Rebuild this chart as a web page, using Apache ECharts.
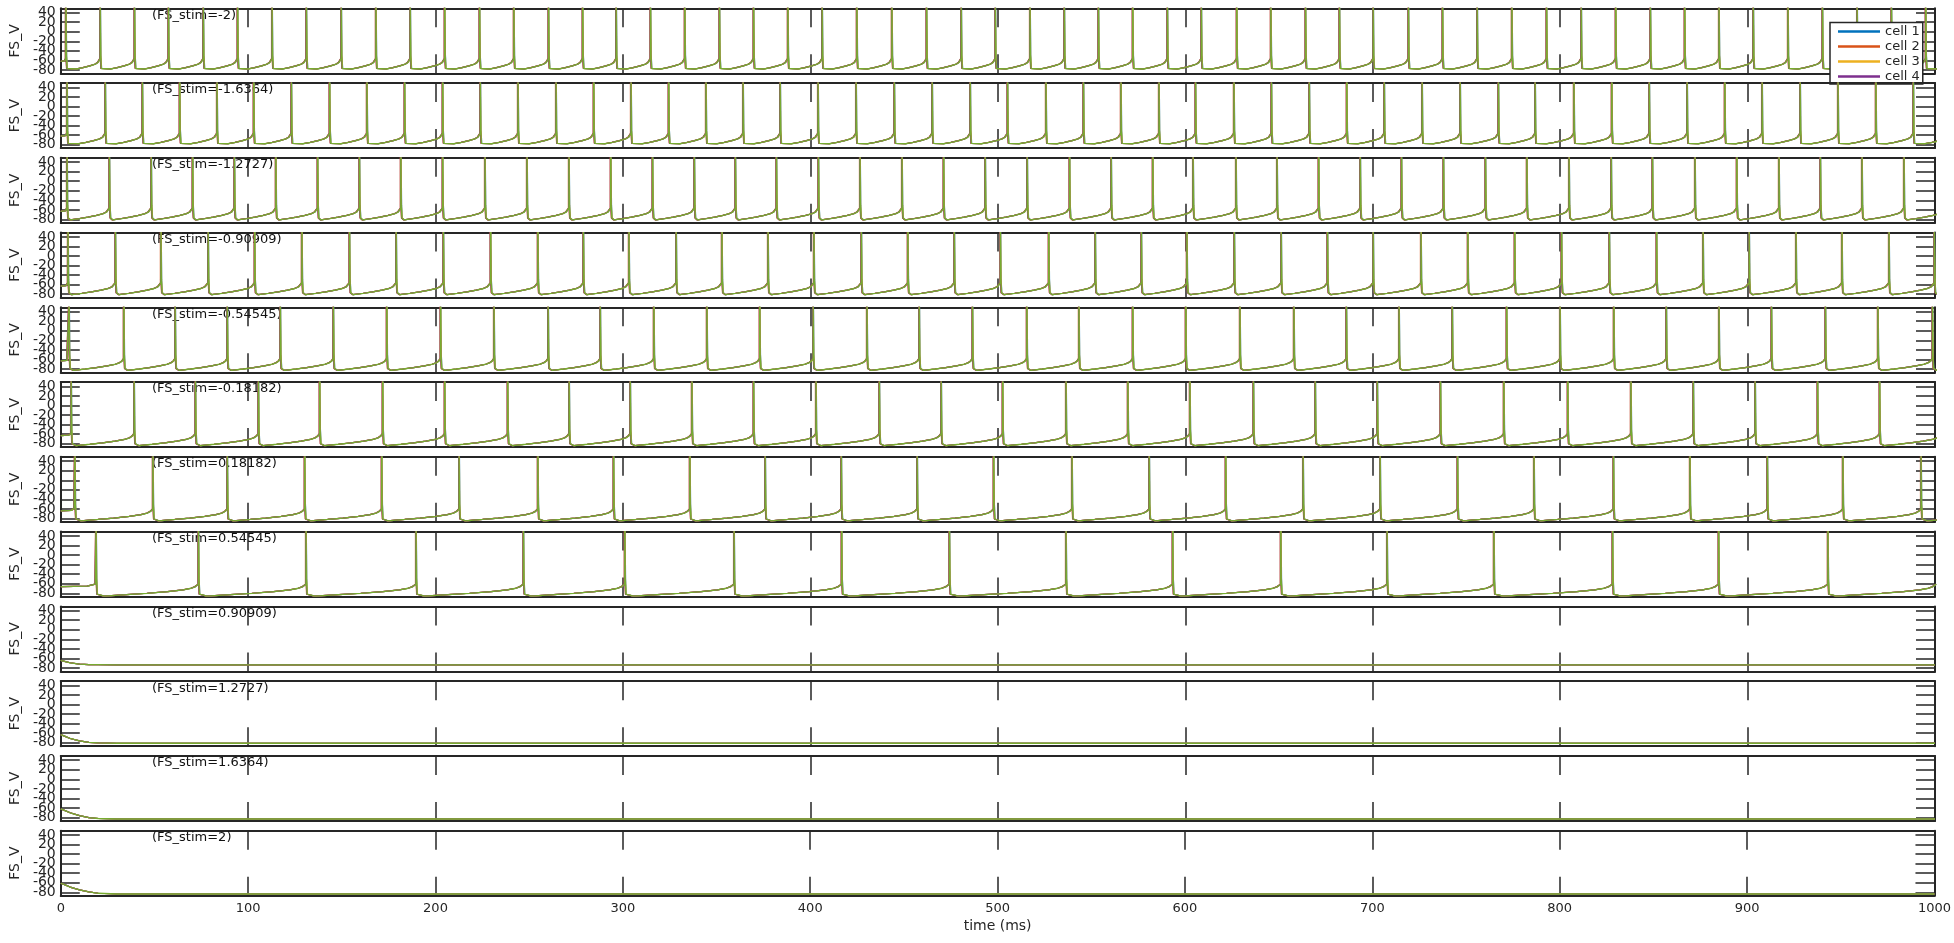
<!DOCTYPE html>
<html><head><meta charset="utf-8">
<script src="https://cdn.jsdelivr.net/npm/echarts@6/dist/echarts.min.js"></script>
<style>html,body{margin:0;padding:0;background:#fff}#c{width:1954px;height:943px}</style>
</head><body><div id="c"></div>
<script>
// ---------- data ----------
const stimLabels = ['-2','-1.6364','-1.2727','-0.90909','-0.54545','-0.18182','0.18182','0.54545','0.90909','1.2727','1.6364','2'];
const cellNames = ['cell 1','cell 2','cell 3','cell 4','cell 5'];
const cellColors = ['#0072BD','#D95319','#EDB120','#7E2F8E','#77AC30'];
const cellShift = [0.2,-0.25,0.15,-0.15,0];           // ms, small per-cell spike lag
const xTicks = [0,100,200,300,400,500,600,700,800,900,1000];
const yTicks = [-80,-60,-40,-20,0,20,40];
const yLabelsA = [-80,-40,0,40];
const yLabelsB = [-60,-20,20];

// spike times (ms)
const spikes1 = [2.7,21.0,39.3,57.4,76.0,94.3,112.7,131.0,149.6,168.1,186.4,204.8,223.4,241.7,260.2,278.4,296.3,314.6,332.9,351.4,369.6,387.9,406.2,424.7,443.4,461.9,480.4,498.6,517.1,535.4,553.6,571.9,590.4,608.5,627.4,645.6,664.1,682.2,700.2,719.0,737.2,755.7,774.2,792.7,811.2,829.6,848.1,866.4,884.7,903.0,921.5,939.9,958.4,976.7,995.0];
const spikes2 = [3.3,23.7,43.5,63.4,83.3,102.9,123.0,143.4,163.3,183.4,203.7,223.8,243.9,264.2,284.3,304.2,324.3,344.2,364.0,383.8,404.0,424.3,444.7,464.9,485.2,505.1,525.6,545.6,565.6,585.9,605.4,625.9,645.9,666.1,686.1,706.1,726.3,746.6,767.0,786.6,807.3,827.5,847.5,867.7,887.8,907.7,928.0,948.2,968.4,988.4];
const spikes3 = [3.3,25.9,48.2,70.3,92.6,114.7,137.0,159.3,181.4,203.7,226.3,248.7,271.1,293.4,315.7,338.0,359.9,381.8,404.2,426.4,448.8,471.0,493.2,515.6,538.2,560.4,582.6,604.1,627.0,648.9,671.1,693.3,715.3,737.7,760.1,782.2,804.7,827.2,849.2,871.9,894.2,916.7,938.8,961.0,983.4];
const spikes4 = [3.8,29.1,53.4,78.6,103.4,128.6,154.0,178.9,204.1,229.3,254.5,278.8,303.1,328.3,352.7,377.3,401.8,427.1,451.9,476.7,501.3,527.1,551.9,576.5,600.8,626.1,651.1,675.8,700.2,725.7,750.7,775.7,800.7,826.2,851.4,876.2,900.8,925.8,950.3,975.4,999.6];
const spikes5 = [4.4,33.6,61.0,88.8,117.1,145.4,173.9,202.6,231.1,260.0,287.8,316.4,344.7,372.9,401.4,430.1,458.0,486.4,515.4,543.2,571.9,600.2,629.1,657.9,685.9,714.0,742.4,771.4,799.9,828.6,856.6,884.7,912.7,941.5,969.5,998.6];
const spikes6 = [5.5,39.1,71.8,105.4,138.1,171.7,204.8,238.4,271.2,303.8,336.7,369.6,402.9,436.7,469.7,502.5,536.3,569.3,602.4,636.3,669.3,702.4,736.1,769.9,804.0,837.7,871.0,904.0,937.3,970.4];
const spikes7 = [7.5,49.1,88.8,130.1,171.2,212.5,254.5,294.9,335.6,375.8,416.4,456.9,497.7,539.5,580.7,621.5,662.8,703.9,745.2,786.0,828.4,869.2,910.5,950.8,992.5];
const spikes8 = [18.8,73.4,130.8,189.5,246.8,300.9,359.2,416.6,474.1,536.3,593.2,650.9,707.6,764.6,827.9,884.5,942.8];
const spikeTimes = [spikes1,spikes2,spikes3,spikes4,spikes5,spikes6,spikes7,spikes8];

const initV   = [-62,-62,-63,-63,-63,-63,-64,-66];   // mV at t=0, spiking panels
const troughV = [-81,-81,-81,-81,-83,-84,-85,-86];   // mV after-hyperpolarisation
const spikePeak = 60;
// shape of the recovery between two spikes (fraction of interval, mV above trough)
const isiFrac = [0.08,0.3,0.5,0.7,0.85,0.93,0.97,1];
const isiRise = [0,3,6,9.5,13,16.5,20,25];

// non-spiking panels: time points and voltages
const flatT = [0,2,5,10,15,20,30,1000];
const flat9  = [-64,-66,-69,-72,-73,-73,-73.5,-73.5];
const flat10 = [-63,-66,-71,-76,-79,-80,-81,-81];
const flat11 = [-62,-65,-70,-76,-80,-82,-83,-83];
const flat12 = [-61,-64,-69,-75,-79,-82,-83.5,-83.5];
const flatV = [flat9,flat10,flat11,flat12];

// ---------- build ----------
const dark = '#262626';
const FONT = 'DejaVu Sans';
const nP = 12, gLeft = 58, gRight = 19, gTop0 = 8.3, gStep = 74.76, gH = 65;
const yMin = -87, yMax = 49;

function spikingTrace(p, shift) {
  const S = spikeTimes[p].map(s => s + shift);
  const tr = troughV[p];
  const meanIsi = (S[S.length-1]-S[0])/(S.length-1);
  const pts = [[0, initV[p]], [S[0]*0.75, initV[p]+1], [S[0]-0.4, initV[p]+5]];
  for (let k = 0; k < S.length; k++) {
    const ts = S[k];
    if (k === 0) pts.push([ts-0.05, tr+isiRise[isiRise.length-1]]);
    pts.push([ts, spikePeak]);
    pts.push([ts+0.25, -50]);
    pts.push([ts+0.6, tr+4]);
    const isi = k+1 < S.length ? S[k+1]-ts : meanIsi;
    for (let j = 0; j < isiFrac.length; j++) pts.push([ts+isiFrac[j]*isi, tr+isiRise[j]]);
  }
  return pts;
}
function flatTrace(q) { return flatT.map((t,i)=>[t, flatV[q][i]]); }

const grids=[], xAxes=[], yAxes=[], series=[], graphics=[];
for (let i = 0; i < nP; i++) {
  const top = gTop0 + i*gStep;
  const zz = (i === 1) ? 6 : 0;
  grids.push({left:gLeft, right:gRight, top:top, height:gH, containLabel:false});
  const axLine = {show:true, onZero:false, lineStyle:{color:dark, width:2}};
  const last = i === nP-1;
  const xBase = {gridIndex:i, type:'value', min:0, max:1000, interval:100, z:zz,
    axisLine:axLine, splitLine:{show:false},
    axisTick:{show:true, inside:true, length:19, customValues:xTicks, lineStyle:{color:dark, width:1.5}}};
  xAxes.push(Object.assign({}, xBase, {position:'bottom',
    axisLabel:{show:last, customValues:xTicks, formatter:v=>String(v), color:dark, fontSize:13, fontFamily:FONT, margin:6},
    name: last ? 'time (ms)' : '', nameLocation:'middle', nameGap:24,
    nameTextStyle:{color:dark, fontSize:14, fontFamily:FONT}}));
  xAxes.push(Object.assign({}, xBase, {position:'top', axisLabel:{show:false}}));
  const yBase = {gridIndex:i, type:'value', min:yMin, max:yMax, z:zz,
    axisLine:axLine, splitLine:{show:false},
    axisTick:{show:true, inside:true, length:19, customValues:yTicks, lineStyle:{color:dark, width:1.5}}};
  const lab = {show:true, hideOverlap:false, showMinLabel:true, showMaxLabel:true,
      formatter:v=>String(v), color:dark, fontSize:14, fontFamily:FONT, margin:5};
  yAxes.push(Object.assign({}, yBase, {position:'left',
    axisLabel:Object.assign({}, lab, {customValues:yLabelsA}),
    name:'FS_V', nameLocation:'middle', nameGap:36, nameRotate:90,
    nameTextStyle:{color:dark, fontSize:14, fontFamily:FONT}}));
  yAxes.push(Object.assign({}, yBase, {position:'right', axisLabel:{show:false}}));
  yAxes.push({gridIndex:i, type:'value', min:yMin, max:yMax, position:'left', z:zz,
    axisLine:{show:false}, axisTick:{show:false}, splitLine:{show:false},
    axisLabel:Object.assign({}, lab, {customValues:yLabelsB})});

  for (let c = 0; c < 5; c++) {
    const data = i < 8 ? spikingTrace(i, cellShift[c]) : flatTrace(i-8);
    series.push({type:'line', name:cellNames[c], xAxisIndex:2*i, yAxisIndex:3*i,
      data:data, showSymbol:false, symbol:'none', silent:true, clip:true,
      z: (i === 1) ? 6 : 2, animation:false, sampling:null,
      lineStyle:{color:cellColors[c], width: c === 4 ? 1.3 : 1.2}, itemStyle:{color:cellColors[c]}});
  }
  graphics.push({type:'text', left:152, top:top+0.5, z:1, silent:true,
    style:{text:'(FS_stim='+stimLabels[i]+')', fontSize:13, fontFamily:FONT, fill:'#111'}});
}

const chart = echarts.init(document.getElementById('c'), null, {renderer:'canvas'});
chart.setOption({
  backgroundColor:'#fff',
  animation:false,
  grid:grids, xAxis:xAxes, yAxis:yAxes, series:series, graphic:graphics,
  legend:{data:['cell 1','cell 2','cell 3','cell 4'], orient:'vertical',
    left:1830, top:22.5, z:4, itemWidth:42, itemHeight:2.5, itemGap:0, icon:'rect',
    padding:[1.5,3,0,8], backgroundColor:'#fff', borderColor:dark, borderWidth:1.5,
    textStyle:{color:dark, fontSize:13, fontFamily:FONT, lineHeight:15}}
});
</script></body></html>
